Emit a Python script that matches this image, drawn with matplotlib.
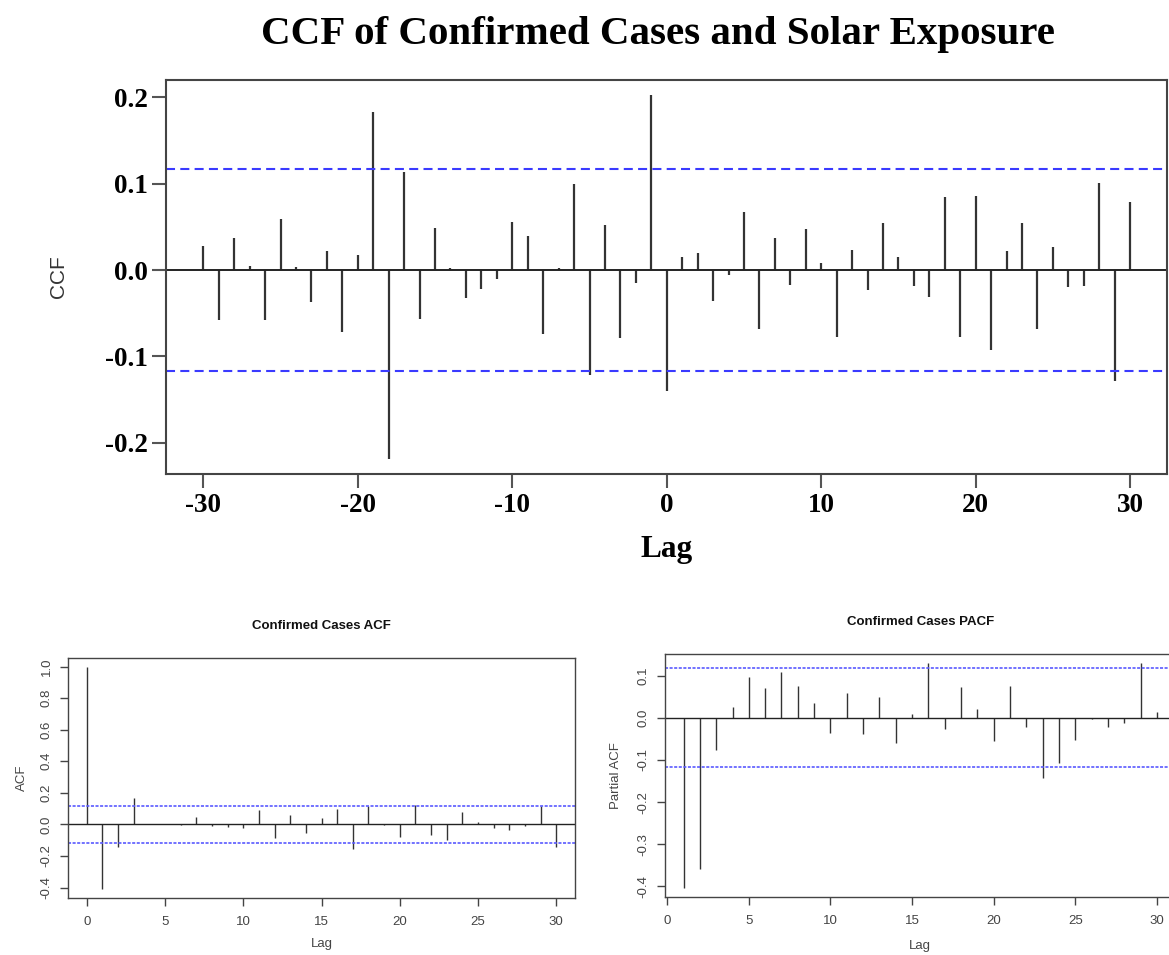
import matplotlib
matplotlib.use('Agg')
import matplotlib.pyplot as plt

plt.rcParams['axes.unicode_minus'] = False
plt.rcParams['lines.scale_dashes'] = False

# cross-correlation, lags -30..30
ccf_lags = list(range(-30, 31))
ccf_values = [0.028, -0.058, 0.037, 0.005, -0.058, 0.059, 0.003, -0.037, 0.022, -0.072,
              0.017, 0.183, -0.219, 0.113, -0.057, 0.049, 0.002, -0.032, -0.022, -0.010,
              0.056, 0.039, -0.074, 0.002, 0.100, -0.121, 0.052, -0.079, -0.015, 0.203,
              -0.140,
              0.015, 0.020, -0.036, -0.006, 0.067, -0.068, 0.037, -0.017, 0.047, 0.008,
              -0.077, 0.023, -0.023, 0.054, 0.015, -0.018, -0.031, 0.084, -0.077, 0.086,
              -0.093, 0.022, 0.055, -0.068, 0.027, -0.020, -0.018, 0.101, -0.128, 0.079]
ccf_conf = 0.117
ccf_xticks = [-30, -20, -10, 0, 10, 20, 30]
ccf_yticks = [-0.2, -0.1, 0.0, 0.1, 0.2]

# autocorrelation of confirmed cases, lags 0..30
acf_lags = list(range(0, 31))
acf_values = [1.0, -0.408, -0.146, 0.165, 0.003, 0.001, -0.005, 0.049, -0.010, -0.017,
              -0.025, 0.089, -0.085, 0.059, -0.055, 0.040, 0.097, -0.154, 0.114, -0.006,
              -0.078, 0.123, -0.070, -0.099, 0.080, 0.013, -0.023, -0.034, -0.008, 0.114,
              -0.144]
acf_conf = 0.117
acf_yticks = [-0.4, -0.2, 0.0, 0.2, 0.4, 0.6, 0.8, 1.0]

# partial autocorrelation, lags 1..30
pacf_lags = list(range(1, 31))
pacf_values = [-0.403, -0.359, -0.077, 0.025, 0.097, 0.070, 0.109, 0.076, 0.036, -0.037,
               0.059, -0.039, 0.048, -0.059, 0.008, 0.129, -0.027, 0.072, 0.021, -0.055,
               0.076, -0.023, -0.142, -0.108, -0.054, -0.003, -0.023, -0.013, 0.129, 0.014]
pacf_conf = 0.117
pacf_yticks = [-0.4, -0.3, -0.2, -0.1, 0.0, 0.1]

small_xticks = [0, 5, 10, 15, 20, 25, 30]

fig = plt.figure(figsize=(11.69, 9.55), dpi=100)

# ---- top: CCF ----
serif = 'Liberation Serif'
ax = fig.add_axes([0.1422, 0.5037, 0.8563, 0.4126])
ax.vlines(ccf_lags, 0, ccf_values, color='#333333', lw=1.6)
ax.axhline(0, color='#222222', lw=1.4)
for c in (ccf_conf, -ccf_conf):
    ax.axhline(c, color='#3a3aff', lw=1.5, linestyle=(0, (6.5, 3.8)))
ax.set_xlim(-32.4, 32.4)
ax.set_ylim(-0.236, 0.22)
ax.set_xticks(ccf_xticks)
ax.set_yticks(ccf_yticks)
ax.set_xticklabels([str(t) for t in ccf_xticks])
ax.set_yticklabels(['%.1f' % t for t in ccf_yticks])
for lab in ax.get_xticklabels() + ax.get_yticklabels():
    lab.set_fontfamily(serif)
    lab.set_fontweight('bold')
    lab.set_fontsize(19.5)
ax.tick_params(direction='out', length=10, width=1.5, color='#555555', pad=3)
ax.tick_params(axis='x', pad=4)
for s in ax.spines.values():
    s.set_color('#444444')
    s.set_linewidth(1.5)
ax.set_xlabel('Lag', fontfamily=serif, fontweight='bold', fontsize=22.5)
ax.xaxis.set_label_coords(0.5, -0.155)
ax.set_ylabel('CCF', fontfamily='Liberation Sans', fontsize=15, color='#333333')
ax.yaxis.set_label_coords(-0.098, 0.5)
fig.text(0.5625, 0.9635, 'CCF of Confirmed Cases and Solar Exposure', fontfamily=serif,
         fontweight='bold', fontsize=29.5, ha='center', va='center')

# ---- bottom panels ----
gray = '#444444'


def small_panel(rect, lags, values, conf, xlim, ylim, yticks, title, ylabel, ylab_x, xlab_y):
    a = fig.add_axes(rect)
    a.vlines(lags, 0, values, color='#333333', lw=1.0)
    a.axhline(0, color='#222222', lw=1.0)
    for c in (conf, -conf):
        a.axhline(c, color='#5a5aff', lw=1.2, linestyle=(0, (2.2, 1.1)))
    a.set_xlim(*xlim)
    a.set_ylim(*ylim)
    a.set_xticks(small_xticks)
    a.set_yticks(yticks)
    a.set_xticklabels([str(t) for t in small_xticks])
    a.set_yticklabels(['%.1f' % t for t in yticks], rotation=90, va='center')
    for lab in a.get_xticklabels() + a.get_yticklabels():
        lab.set_fontfamily('Liberation Sans')
        lab.set_fontsize(9.5)
        lab.set_color(gray)
    a.tick_params(direction='out', length=6, width=1.0, color=gray)
    a.tick_params(axis='x', pad=7)
    a.tick_params(axis='y', pad=5)
    for s in a.spines.values():
        s.set_color(gray)
        s.set_linewidth(1.0)
    a.set_title(title, fontfamily='Liberation Sans', fontweight='bold', fontsize=9.5,
                color='#111111', pad=21)
    a.set_xlabel('Lag', fontfamily='Liberation Sans', fontsize=9.5, color=gray)
    a.xaxis.set_label_coords(0.5, xlab_y)
    a.set_ylabel(ylabel, fontfamily='Liberation Sans', fontsize=9.5, color=gray)
    a.yaxis.set_label_coords(ylab_x, 0.5)
    return a


small_panel([0.0582, 0.0600, 0.4337, 0.2513], acf_lags, acf_values, acf_conf,
            (-1.2, 31.2), (-0.464, 1.056), acf_yticks, 'Confirmed Cases ACF', 'ACF',
            -0.08, -0.168)
small_panel([0.5685, 0.0607, 0.4375, 0.2545], pacf_lags, pacf_values, pacf_conf,
            (-0.16, 31.16), (-0.425, 0.151), pacf_yticks, 'Confirmed Cases PACF', 'Partial ACF',
            -0.084, -0.175)

fig.savefig('out.png', dpi=100)
